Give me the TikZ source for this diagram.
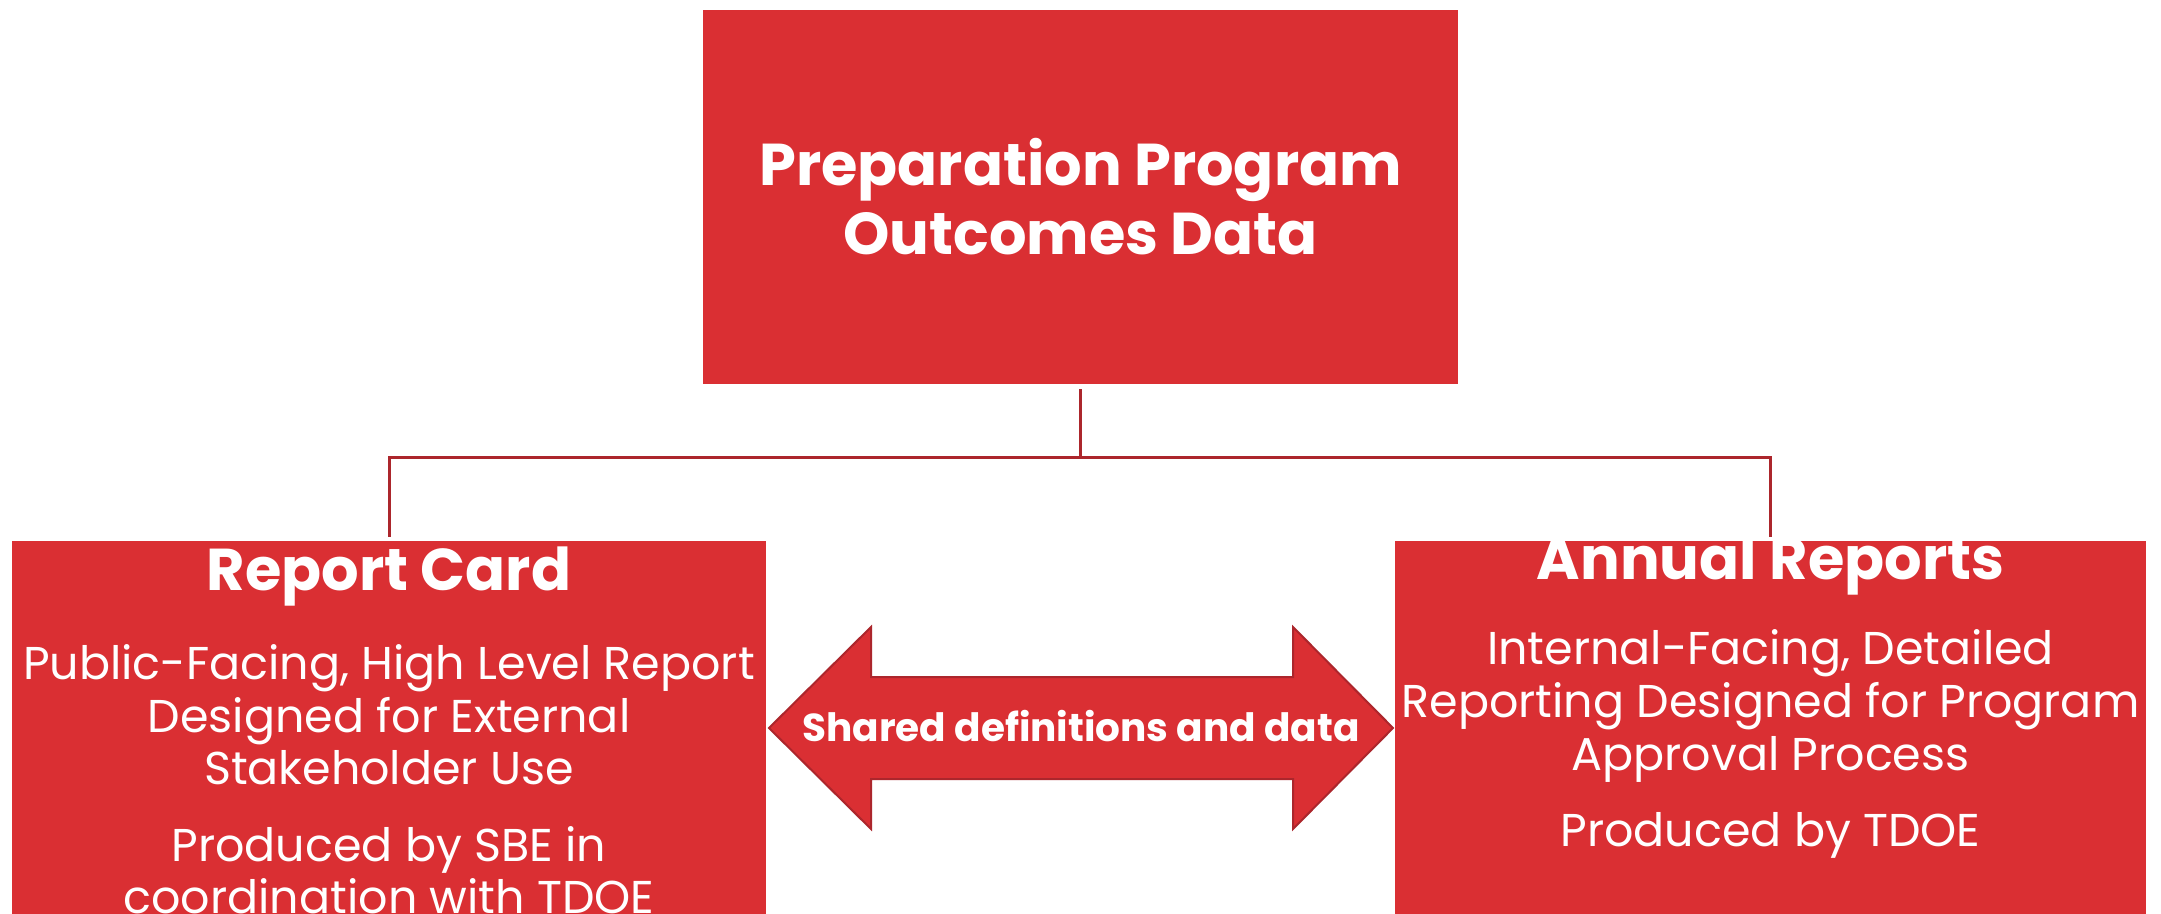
\documentclass[tikz,border=0pt]{standalone}
\usepackage{fontspec}
\setmainfont{Poppins}
\definecolor{boxred}{RGB}{218,47,51}
\definecolor{linered}{RGB}{172,38,44}
\tikzset{
  redbox/.style={fill=boxred, draw=none, inner sep=0pt},
  conn/.style={draw=linered, line width=1.5pt},
  twoarrow/.style={fill=boxred, draw=linered, line width=1pt, line join=miter},
  headtxt/.style={text=white, font=\bfseries\fontsize{29.5}{34.5}\selectfont, align=center, inner sep=0pt},
  bodytxt/.style={text=white, font=\fontsize{23}{26.3}\selectfont, align=center, inner sep=0pt},
  arrowtxt/.style={text=white, font=\bfseries\fontsize{19.5}{22}\selectfont, inner sep=0pt}
}
\begin{document}
\begin{tikzpicture}[x=0.5pt,y=-0.5pt]
\useasboundingbox (0,0) rectangle (2161,914);
\fill[white] (0,0) rectangle (2161,914);
% boxes
\node[redbox, minimum width=377.5pt, minimum height=187pt] (top) at (1080.5,197) {};
\node[redbox, minimum width=377pt, minimum height=186.5pt] (left) at (389,727.5) {};
\node[redbox, minimum width=375.5pt, minimum height=186.5pt] (right) at (1770.5,727.5) {};
% texts
\node[headtxt] (toptxt) at (1080.5,197) {Preparation Program\\Outcomes Data};
\node[headtxt] (lefthead) at (389,577) {Report Card};
\node[bodytxt] (leftp1) at (389,715) {Public-Facing, High Level Report\\Designed for External\\Stakeholder Use};
\node[bodytxt] (leftp2) at (389,870) {Produced by SBE in\\coordination with TDOE};
\node[headtxt] (righthead) at (1770.5,566) {Annual Reports};
\node[bodytxt] (rightp1) at (1770.5,706) {Internal-Facing, Detailed\\Reporting Designed for Program\\Approval Process};
\node[bodytxt] (rightp2) at (1770.5,835) {Produced by TDOE};
% connectors
\coordinate (jn) at (1080.5,457);
\draw[conn] ([yshift=-2.5pt]top.south) -- (jn);
\draw[conn] ([yshift=2pt]left.north) |- (jn) -| ([yshift=2pt]right.north);
% double arrow
\coordinate (lt) at (769,728);
\coordinate (rt) at (1393,728);
\draw[twoarrow] (lt) -- (871,627) -- (871,677) -- (1293,677) -- (1293,627) -- (rt)
  -- (1293,829) -- (1293,779) -- (871,779) -- (871,829) -- cycle;
\node[arrowtxt] (arrtxt) at (1081,726) {Shared definitions and data};
\end{tikzpicture}
\end{document}
